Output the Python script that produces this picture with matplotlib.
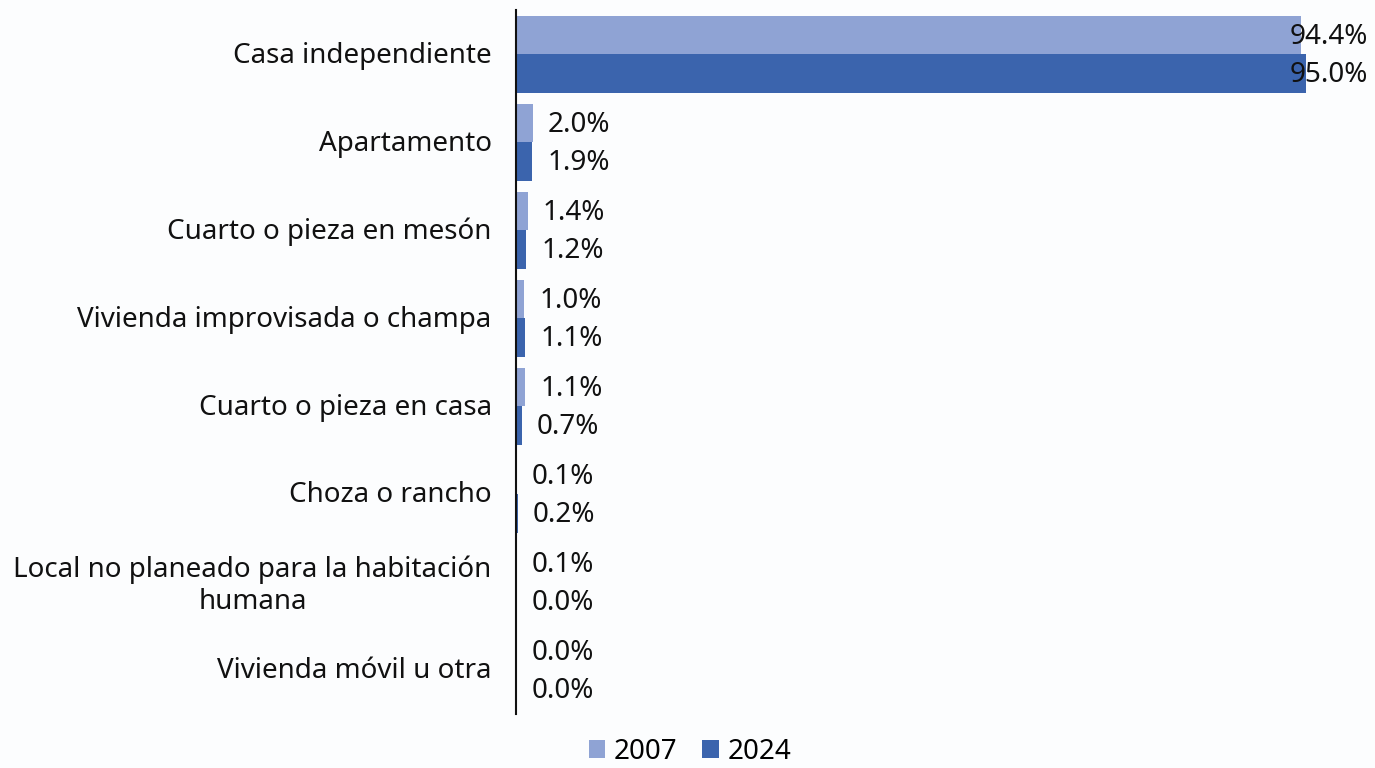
import matplotlib
matplotlib.use("Agg")
import matplotlib.pyplot as plt
import matplotlib.transforms as mtransforms
import numpy as np

categories = ["Casa independiente", "Apartamento", "Cuarto o pieza en mesón",
              "Vivienda improvisada o champa", "Cuarto o pieza en casa",
              "Choza o rancho", "Local no planeado para la habitación\nhumana",
              "Vivienda móvil u otra"]
values_2007 = [94.4, 2.0, 1.4, 1.0, 1.1, 0.1, 0.1, 0.0]
values_2024 = [95.0, 1.9, 1.2, 1.1, 0.7, 0.2, 0.0, 0.0]
series_labels = ["2007", "2024"]

c07 = "#8FA3D4"
c24 = "#3B64AD"
plt.rcParams['font.family'] = ['Noto Sans', 'DejaVu Sans']

W, H = 1375, 768
fig = plt.figure(figsize=(W/100, H/100), dpi=100)
fig.patch.set_facecolor("#FCFDFE")

ax_l, ax_r = 516, 516 + 100*8.316
ax_t, ax_b = 10, 714
ax = fig.add_axes([ax_l/W, 1-ax_b/H, (ax_r-ax_l)/W, (ax_b-ax_t)/H])
ax.set_facecolor("none")

n = len(categories)
y = np.arange(n)
h = 0.4375
ax.barh(y - h/2, values_2007, height=h, color=c07, label=series_labels[0])
ax.barh(y + h/2, values_2024, height=h, color=c24, label=series_labels[1])
ax.set_ylim(n - 0.5, -0.5)
ax.set_xlim(0, 100)

fs = 20
ax.set_yticks(y)
ax.set_yticklabels(categories, fontsize=fs, color="#111111", multialignment="center",
                   linespacing=1.2)
ax.tick_params(axis='y', length=0, pad=17.5)
shift = mtransforms.ScaledTranslation(0, 2/100, fig.dpi_scale_trans)
for lab in ax.get_yticklabels():
    lab.set_transform(lab.get_transform() + shift)
ax.set_xticks([])
for s in ["top", "right", "bottom"]:
    ax.spines[s].set_visible(False)
ax.spines["left"].set_linewidth(1.5)
ax.spines["left"].set_color("#111111")

for vals, off in [(values_2007, -h/2), (values_2024, h/2)]:
    for i, v in enumerate(vals):
        txt = f"{v:.1f}%"
        if v > 50:
            ax.annotate(txt, xy=(1.0, i + off), xycoords=('axes fraction', 'data'),
                        xytext=(15, -1.5), textcoords='offset points',
                        ha='right', va='center', fontsize=fs, color="#111111")
        else:
            ax.annotate(txt, xy=(v, i + off), xytext=(11, -1.5), textcoords='offset points',
                        ha='left', va='center', fontsize=fs, color="#111111")

leg = fig.legend(loc='center', bbox_to_anchor=(690/W, 1-752/H), ncol=2, frameon=False,
                 fontsize=fs, handlelength=0.6, handleheight=0.6, handletextpad=0.3,
                 columnspacing=0.9, borderpad=0.1)

fig.savefig("out.png", dpi=100, facecolor=fig.get_facecolor())
